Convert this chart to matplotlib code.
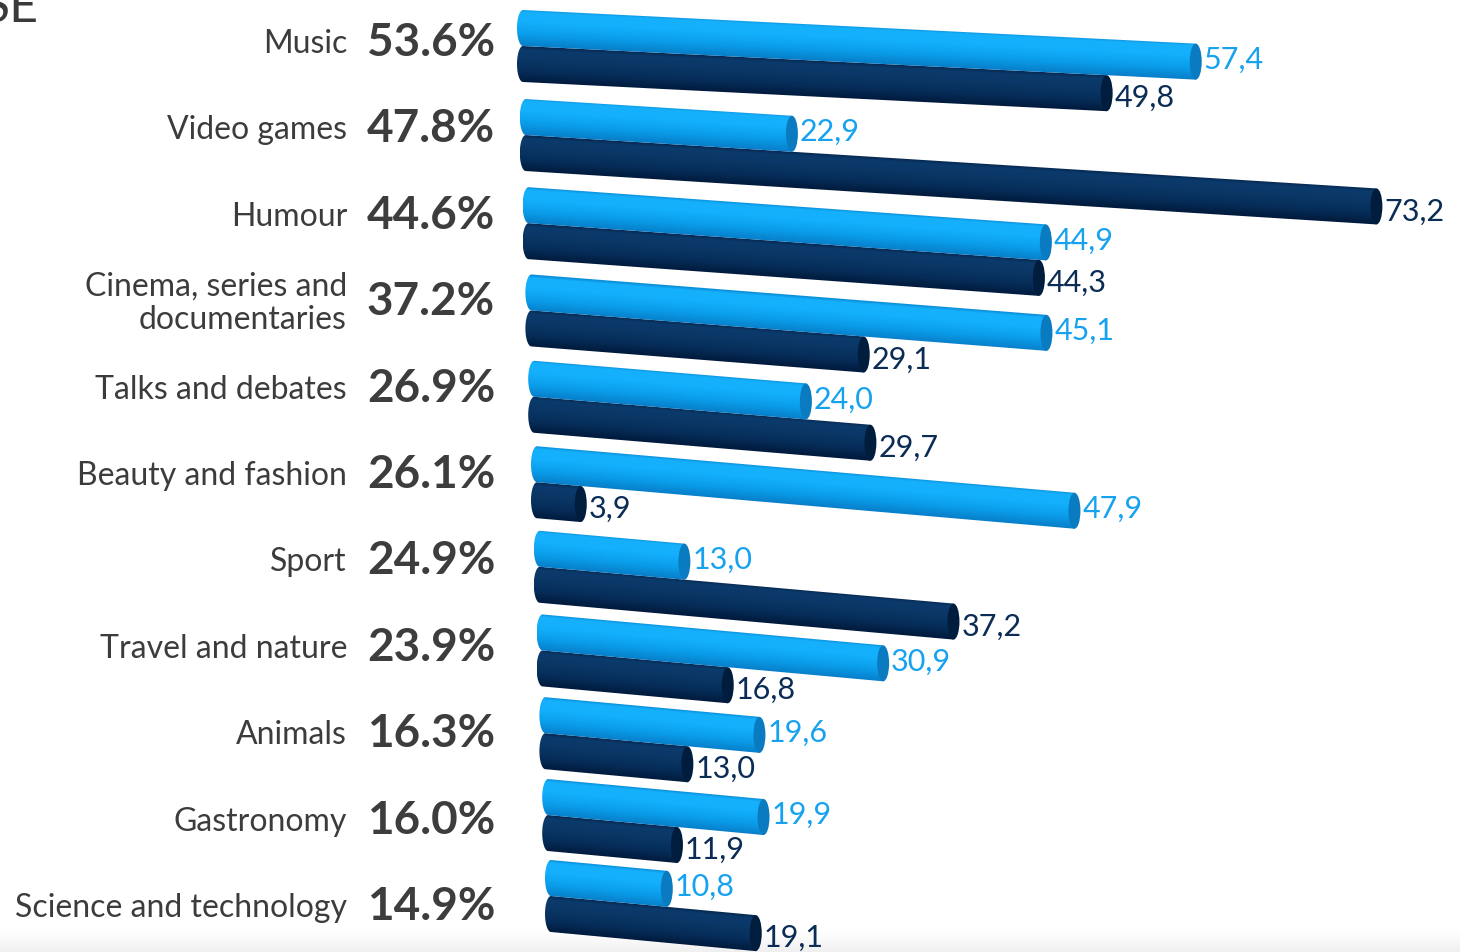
import numpy as np
import matplotlib.pyplot as plt
from matplotlib.patches import Ellipse, PathPatch
from matplotlib.path import Path
from matplotlib.colors import LinearSegmentedColormap

# topics, overall share and the two series shown as cylinders
categories = ['Music', 'Video games', 'Humour', 'Cinema, series and\ndocumentaries',
              'Talks and debates', 'Beauty and fashion', 'Sport', 'Travel and nature',
              'Animals', 'Gastronomy', 'Science and technology']
totals = [53.6, 47.8, 44.6, 37.2, 26.9, 26.1, 24.9, 23.9, 16.3, 16.0, 14.9]
light_vals = [57.4, 22.9, 44.9, 45.1, 24.0, 47.9, 13.0, 30.9, 19.6, 19.9, 10.8]
dark_vals = [49.8, 73.2, 44.3, 29.1, 29.7, 3.9, 37.2, 16.8, 13.0, 11.9, 19.1]

W, H = 1460, 952
PX_X = 11.75     # pixels per value unit (front row)
PX_Y = 86.4      # pixels per row
X0 = 517         # pixel of x = 0
Y0 = 43          # pixel of first row centre

fig = plt.figure(figsize=(W / 100, H / 100), dpi=100)
ax = fig.add_axes([0, 0, 1, 1])
ax.set_xlim(-X0 / PX_X, (W - X0) / PX_X)
ax.set_ylim((H - Y0) / PX_Y, -Y0 / PX_Y)
ax.axis('off')

light_cmap = LinearSegmentedColormap.from_list('lb', [
    (0.0, '#0b8fd9'), (0.08, '#16b0fb'), (0.35, '#14b0fd'),
    (0.7, '#0a9de9'), (1.0, '#0880cb')])
dark_cmap = LinearSegmentedColormap.from_list('db', [
    (0.0, '#07284f'), (0.1, '#0b3a6c'), (0.35, '#0a3766'),
    (0.7, '#062d59'), (1.0, '#011b3d')])

th = 36 / PX_Y          # cylinder thickness in rows
rx = 6 / PX_X           # half width of the end ellipses


def cylinder(xa, top_a, value, slope, cmap, cap_color, z):
    xb = xa + value
    top_b = top_a + slope * value
    cy_a, cy_b = top_a + th / 2, top_b + th / 2
    # outline: left rounded end + straight body
    ang = np.linspace(np.pi / 2, 3 * np.pi / 2, 40)
    ex = xa + rx * np.cos(ang)
    ey = cy_a - th / 2 * np.sin(ang)
    verts = list(zip(ex, ey)) + [(xb, top_b + th), (xb, top_b), (xa, top_a)]
    codes = [Path.MOVETO] + [Path.LINETO] * (len(verts) - 2) + [Path.CLOSEPOLY]
    clip = PathPatch(Path(verts, codes), facecolor='none', edgecolor='none',
                     transform=ax.transData, zorder=z)
    ax.add_patch(clip)
    # shading across the cylinder
    x_lo, x_hi = xa - rx, xb + rx
    y_lo, y_hi = top_a - 0.02, top_b + th + 0.02
    nx, ny = 300, 80
    gx = np.linspace(x_lo, x_hi, nx)
    gy = np.linspace(y_lo, y_hi, ny)
    GX, GY = np.meshgrid(gx, gy)
    t = (GY - (top_a + slope * (GX - xa))) / th
    img = cmap(np.clip(t, 0, 1))
    im = ax.imshow(img, extent=(x_lo, x_hi, y_hi, y_lo), origin='upper',
                   aspect='auto', interpolation='bilinear', zorder=z)
    im.set_clip_path(clip)
    ax.add_patch(Ellipse((xb, cy_b), 2 * rx, th, facecolor=cap_color,
                         edgecolor='none', zorder=z + 0.1))
    return xb, cy_b


for i, cat in enumerate(categories):
    persp = (11.72 - 0.1 * i) / PX_X
    slope_px = 0.05 + 0.045 * (1 - np.exp(-i / 3))
    slope = slope_px * PX_X / PX_Y
    left = 2.8 * i / PX_X
    xa = left + rx
    top_light = (10 + 89.5 * i - 0.45 * i ** 2 - Y0) / PX_Y
    top_dark = top_light + th

    xb, cy = cylinder(xa, top_light, light_vals[i] * persp, slope,
                      light_cmap, '#0a7bc1', 3)
    ax.text(xb + rx + 2 / PX_X, cy - 2 / PX_Y, f'{light_vals[i]:.1f}'.replace('.', ','),
            color='#17a2ef', fontsize=22, family='Lato', va='center', ha='left',
            zorder=6)

    xb, cy = cylinder(xa, top_dark, dark_vals[i] * persp, slope,
                      dark_cmap, '#011d3e', 2)
    ax.text(xb + rx + 2 / PX_X, cy + 5 / PX_Y, f'{dark_vals[i]:.1f}'.replace('.', ','),
            color='#0b2c55', fontsize=22, family='Lato', va='center', ha='left',
            zorder=6)

    tr = ax.get_yaxis_transform()
    ax.text(347 / W, i + 1 / PX_Y, cat, transform=tr, ha='right', va='center',
            multialignment='right', fontsize=23, family='Lato', weight='normal',
            color='#3c3c3c', linespacing=1.12)
    ax.text(431 / W, i, f'{totals[i]:.1f}%', transform=tr, ha='center',
            va='center', fontsize=33, family='Lato', weight='bold', color='#3d3d3d')

# faint shadow along the bottom edge
n = 40
shade = np.ones((n, 2, 4))
shade[..., :3] = 0.94
shade[..., 3] = np.linspace(0, 1, n)[:, None] ** 1.5
ax.imshow(shade, extent=(ax.get_xlim()[0], ax.get_xlim()[1],
                         (H - Y0) / PX_Y, (928 - Y0) / PX_Y),
          origin='upper', aspect='auto', zorder=0)
ax.set_xlim(-X0 / PX_X, (W - X0) / PX_X)
ax.set_ylim((H - Y0) / PX_Y, -Y0 / PX_Y)

# cut-off title letters in the corner
fig.text(38 / W, 1 - 22 / H, 'SE', ha='right', va='baseline', fontsize=36,
         family='Lato', weight='normal', color='#3a3a3a')

fig.savefig('out.png', dpi=100)
